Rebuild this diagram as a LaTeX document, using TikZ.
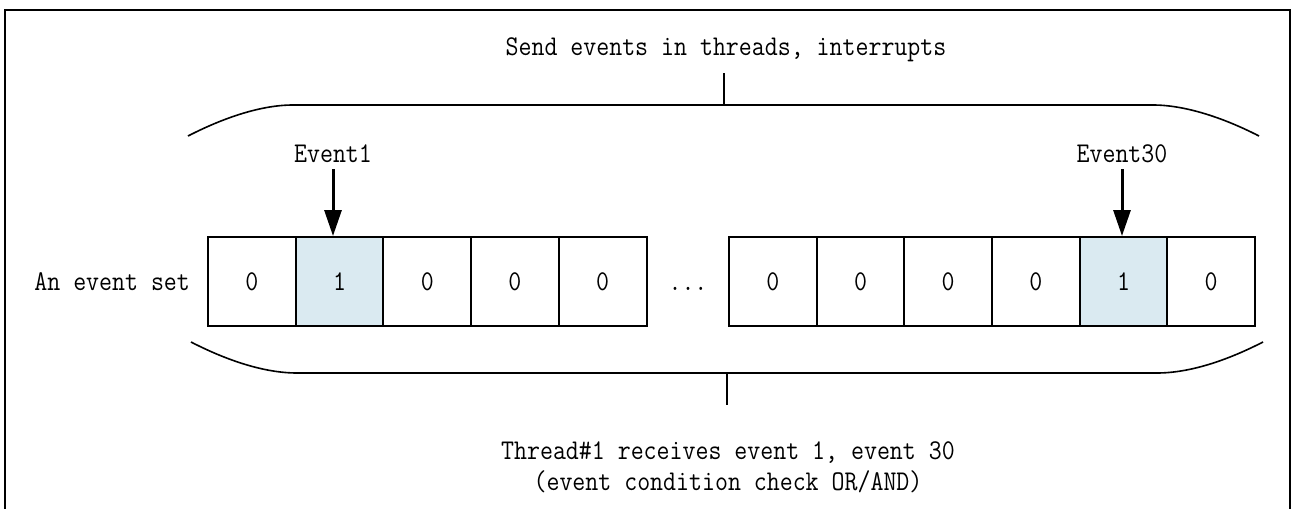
\documentclass[tikz,border=0pt]{standalone}
\usepackage{fontspec}
\setmonofont[FakeStretch=0.88]{Latin Modern Mono}
\usetikzlibrary{arrows.meta,positioning}
\definecolor{cellblue}{RGB}{218,234,241}

\begin{document}
\begin{tikzpicture}[x=0.5pt,y=-0.5pt,
    every node/.style={font=\ttfamily\fontsize{14.3pt}{15.5pt}\selectfont},
    bit/.style={draw,line width=1pt,minimum width=43.85pt,minimum height=44.5pt,inner sep=0pt},
    hit/.style={bit,fill=cellblue},
    brace/.style={line width=0.8pt},
    tick/.style={line width=1.1pt},
    evarrow/.style={-{Triangle[length=13pt,width=8.5pt]},line width=1.5pt}]
  \useasboundingbox (0,0) rectangle (1292,509);
  % frame, cut off at the bottom
  \draw[line width=0.8pt] (5,509) -- (5,10) -- (1290,10) -- (1290,509);

  % the event set
  \foreach \s/\v [count=\i] in {bit/0,hit/1,bit/0,bit/0,bit/0}
    \node[\s] (a\i) at ({164.15+87.7*\i},281.5) {\v};
  \foreach \s/\v [count=\i] in {bit/0,bit/0,bit/0,bit/0,hit/1,bit/0}
    \node[\s] (b\i) at ({685.16+87.67*\i},281.5) {\v};
  \node[anchor=base] (dots) at (688,290) {...};
  \node[left=5pt of a1] (setname) {An event set};

  % senders
  \node[anchor=base] (title) at (726,55) {Send events in threads, interrupts};
  \coordinate (toptip) at (724,73);
  \coordinate (topmid) at (724,105);
  \draw[brace] (188,136) .. controls (225,117) and (262,105) .. (293,105)
    -- (1153,105) .. controls (1184,105) and (1222,117) .. (1259,136);
  \draw[tick] (toptip) -- (topmid);

  \node[anchor=base] (ev1) at (333,162) {Event1};
  \node[anchor=base] (ev30) at (1122,162) {Event30};
  \draw[evarrow] (ev1.south) -- (ev1.south |- a2.north);
  \draw[evarrow] (ev30.south) -- (ev30.south |- b5.north);

  % receiver
  \coordinate (botmid) at (727,373);
  \coordinate (bottip) at (727,405);
  \draw[brace] (191,342) .. controls (228,361) and (265,373) .. (297,373)
    -- (1157,373) .. controls (1189,373) and (1226,361) .. (1263,342);
  \draw[tick] (botmid) -- (bottip);
  \node[align=center] (recv) at (728,467)
    {Thread\#1 receives event 1, event 30\\(event condition check OR/AND)};
\end{tikzpicture}
\end{document}
